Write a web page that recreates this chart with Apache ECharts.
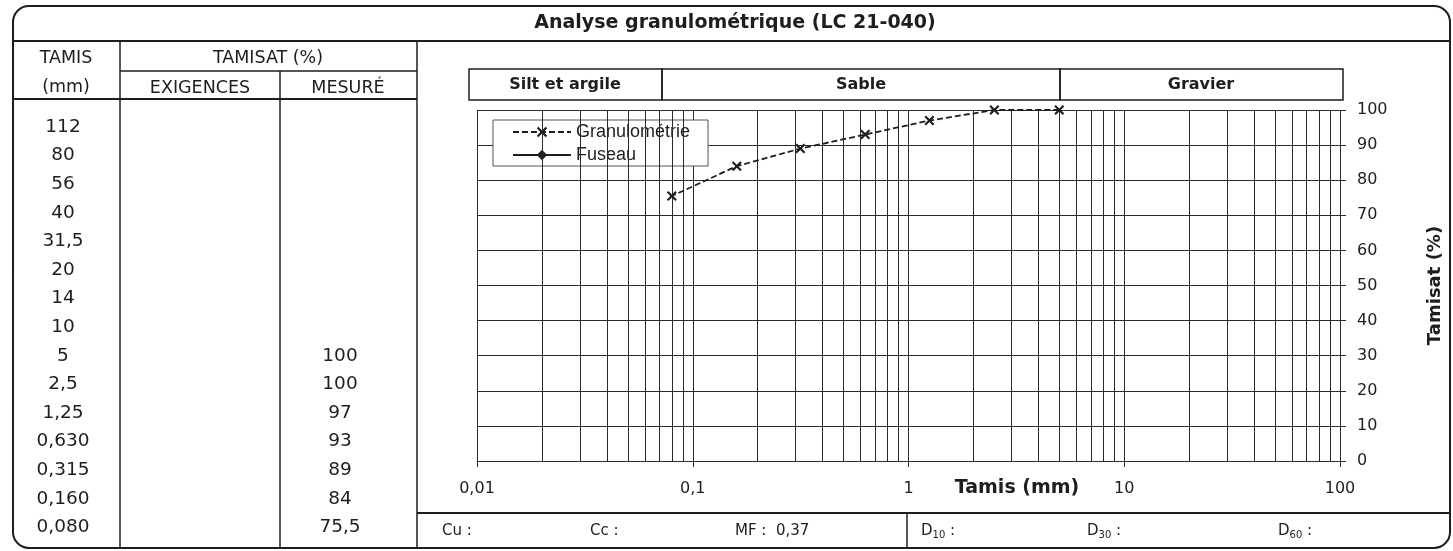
<!DOCTYPE html>
<html>
<head>
<meta charset="utf-8">
<script src="https://cdn.jsdelivr.net/npm/echarts@6/dist/echarts.min.js"></script>
<style>
  html, body { margin: 0; padding: 0; background: #fff; }
  #main { width: 1453px; height: 551px; }
</style>
</head>
<body>
<div id="main"></div>
<script>
// tamis (mm) et tamisat mesuré (%)
const tamisLabels = ['112', '80', '56', '40', '31,5', '20', '14', '10', '5', '2,5', '1,25', '0,630', '0,315', '0,160', '0,080']
const tamisMm = [112, 80, 56, 40, 31.5, 20, 14, 10, 5, 2.5, 1.25, 0.63, 0.315, 0.16, 0.08]
const mesure = [null, null, null, null, null, null, null, null, 100, 100, 97, 93, 89, 84, 75.5]
const exigences = [] // pas de fuseau
const xTicks = [0.01, 0.1, 1, 10, 100]
const yTicks = [0, 10, 20, 30, 40, 50, 60, 70, 80, 90, 100]
const mf = '0,37'

const chart = echarts.init(document.getElementById('main'))

const ink = '#1e1e1e'
const tableFont = 'DejaVu Sans'

// lignes secondaires de l'échelle log (2..9 par décade)
const minorX = []
for (let d = 0; d < xTicks.length - 1; d++) {
  for (let k = 2; k <= 9; k++) minorX.push(+(xTicks[d] * k).toPrecision(3))
}

const fmtNum = v => String(v).replace('.', ',')

const txt = (x, y, text, opt = {}) => ({
  type: 'text', x, y, silent: true,
  style: {
    text,
    fill: ink,
    fontFamily: opt.family || tableFont,
    fontSize: opt.size || 17,
    fontWeight: opt.weight || 'normal',
    align: opt.align || 'center', textAlign: opt.align || 'center',
    verticalAlign: 'middle', textVerticalAlign: 'middle',
    rich: opt.rich
  }
})
const line = (x1, y1, x2, y2, w = 1.5) => ({
  type: 'line', silent: true,
  shape: { x1, y1, x2, y2 },
  style: { stroke: ink, lineWidth: w }
})
const box = (x, y, width, height, r = 0, w = 1.5) => ({
  type: 'rect', silent: true,
  shape: { x, y, width, height, r },
  style: { fill: 'none', stroke: ink, lineWidth: w }
})

// tableau de gauche + cadre
const graphics = [
  box(13, 6, 1437, 542, 16, 2),
  line(13, 41, 1450, 41, 2),
  line(120, 41, 120, 548),
  line(280, 71, 280, 548),
  line(417, 41, 417, 548),
  line(120, 71, 417, 71),
  line(13, 99, 417, 99, 2),
  line(417, 513, 1450, 513, 2),
  line(907, 513, 907, 548),
  txt(735, 23, 'Analyse granulométrique (LC 21-040)', { size: 19, weight: 'bold' }),
  txt(66, 58, 'TAMIS', { size: 17.5 }),
  txt(66, 87, '(mm)', { size: 17.5 }),
  txt(268, 58, 'TAMISAT (%)', { size: 17.5 }),
  txt(200, 88, 'EXIGENCES', { size: 17.5 }),
  txt(348, 88, 'MESURÉ', { size: 17.5 }),
  // bandeau des classes granulaires
  box(469, 69, 193, 31),
  box(662, 69, 398, 31),
  box(1060, 69, 283, 31),
  txt(565, 85, 'Silt et argile', { size: 16, weight: 'bold' }),
  txt(861, 85, 'Sable', { size: 16, weight: 'bold' }),
  txt(1201, 85, 'Gravier', { size: 16, weight: 'bold' }),
  txt(1017, 488, 'Tamis (mm)', { size: 19, weight: 'bold' }),
  // ligne du bas
  txt(442, 531, 'Cu :', { size: 15, align: 'left' }),
  txt(590, 531, 'Cc :', { size: 15, align: 'left' }),
  txt(735, 531, 'MF :  ' + mf, { size: 15, align: 'left' })
]
const sub = {
  d: { fontFamily: tableFont, fontSize: 15, color: ink, lineHeight: 22 },
  s: { fontFamily: tableFont, fontSize: 10, color: ink, lineHeight: 22, padding: [9, 0, 0, 0] }
}
graphics.push(txt(921, 531, '{d|D}{s|10}{d| :}', { align: 'left', rich: sub }))
graphics.push(txt(1087, 531, '{d|D}{s|30}{d| :}', { align: 'left', rich: sub }))
graphics.push(txt(1278, 531, '{d|D}{s|60}{d| :}', { align: 'left', rich: sub }))

const rowY0 = 127, rowStep = 28.6
tamisLabels.forEach((t, i) => {
  graphics.push(txt(63, rowY0 + i * rowStep, t, { size: 18.5 }))
  if (exigences[i] != null) graphics.push(txt(200, rowY0 + i * rowStep, fmtNum(exigences[i]), { size: 18.5 }))
  if (mesure[i] != null) graphics.push(txt(340, rowY0 + i * rowStep, fmtNum(mesure[i]), { size: 18.5 }))
})

const granuloData = tamisMm.map((t, i) => [t, mesure[i]]).filter(p => p[1] != null)
const gridStyle = { color: '#2a2a2a', width: 1 }
const crossSymbol = 'path://M1.5,0 L5,3.5 L8.5,0 L10,1.5 L6.5,5 L10,8.5 L8.5,10 L5,6.5 L1.5,10 L0,8.5 L3.5,5 L0,1.5 Z'

const option = {
  animation: false,
  backgroundColor: '#fff',
  graphic: { elements: graphics },
  grid: { left: 477, right: 113, top: 110, bottom: 90 },
  legend: {
    left: 493, top: 120,
    orient: 'vertical',
    itemWidth: 58, itemHeight: 13, itemGap: 5,
    padding: [3, 18, 2, 19],
    borderColor: '#555', borderWidth: 1,
    backgroundColor: '#fff',
    textStyle: { fontFamily: 'Liberation Sans', fontSize: 18, color: ink },
    data: ['Granulométrie', 'Fuseau']
  },
  xAxis: {
    type: 'log', logBase: 10, min: xTicks[0], max: xTicks[xTicks.length - 1],
    axisLine: { show: true, lineStyle: gridStyle },
    axisTick: { show: true, length: 6, lineStyle: gridStyle },
    axisLabel: { margin: 20, fontFamily: tableFont, fontSize: 16, color: ink, formatter: v => fmtNum(v) },
    splitLine: { show: true, lineStyle: gridStyle }
  },
  yAxis: {
    type: 'value', position: 'right', min: yTicks[0], max: yTicks[yTicks.length - 1], interval: 10,
    axisLine: { show: false },
    axisTick: { show: true, length: 6, inside: false, lineStyle: gridStyle },
    axisLabel: { margin: 17, fontFamily: tableFont, fontSize: 16, color: ink, align: 'left' },
    splitLine: { show: true, lineStyle: gridStyle },
    name: 'Tamisat (%)', nameLocation: 'middle', nameGap: 86, nameRotate: 90,
    nameTextStyle: { fontFamily: tableFont, fontSize: 18, fontWeight: 'bold', color: ink }
  },
  series: [
    {
      name: 'Granulométrie',
      type: 'line',
      data: granuloData,
      symbol: crossSymbol, symbolSize: 10,
      itemStyle: { color: ink },
      lineStyle: { color: ink, width: 1.8, type: [6, 3] },
      markLine: {
        silent: true, symbol: 'none', label: { show: false },
        lineStyle: { color: '#2a2a2a', width: 1, type: 'solid' },
        data: minorX.map(v => ({ xAxis: v }))
      },
      z: 5
    },
    {
      name: 'Fuseau',
      type: 'line',
      data: exigences,
      symbol: 'diamond', symbolSize: 8,
      itemStyle: { color: ink },
      lineStyle: { color: ink, width: 1 }
    }
  ]
}

chart.setOption(option)
window.addEventListener('resize', () => chart.resize())
</script>
</body>
</html>
